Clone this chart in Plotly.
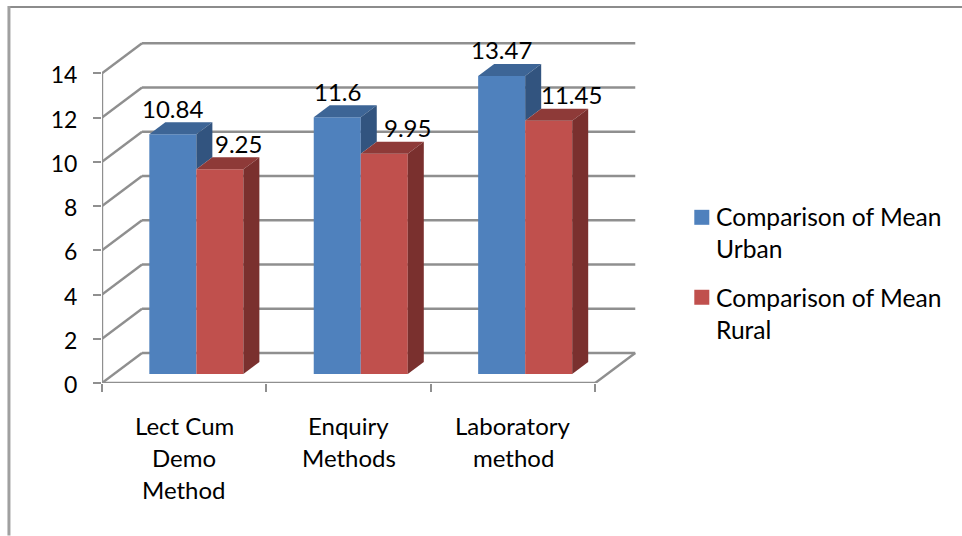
import plotly.graph_objects as go

categories = [["Lect Cum", "Demo", "Method"], ["Enquiry", "Methods"], ["Laboratory", "method"]]
urban = [10.84, 11.6, 13.47]
rural = [9.25, 9.95, 11.45]
urban_labels = ["10.84", "11.6", "13.47"]
rural_labels = ["9.25", "9.95", "11.45"]
y_ticks = [0, 2, 4, 6, 8, 10, 12, 14]
legend_urban = ["Comparison of Mean", "Urban"]
legend_rural = ["Comparison of Mean", "Rural"]

W, H = 962, 536
FONT = "Lato"
FS = 24
LEG_FS = 24.6
TXT = "#000000"
GRID = "#8F8F8F"
LW = 2.4
PX = 164.33          # px per category
PY = 22.14           # px per value unit
L, B = 102.0, 383.3  # pixel position of data origin
XMAX, YMAX = 3.4, 16.0
PW, PH = XMAX * PX, YMAX * PY
T = B - PH
R = W - L - PW

WALL_DX, WALL_DY = 40 / PX, 30 / PY      # back wall offset
BAR_DX, BAR_DY = 12 / PX, 9 / PY         # bar front plane offset
DEP_DX, DEP_DY = 16 / PX, 12 / PY        # bar depth
BAR_W = 47 / PX
GAP = 35.3 / PX

def paper_x(px):
    return (px - L) / PW

def paper_y(py):
    return (B - py) / PH

fig = go.Figure()

# Walls and floor
shapes = []
def line(x0, y0, x1, y1):
    shapes.append(dict(type="line", xref="x", yref="y", x0=x0, y0=y0, x1=x1, y1=y1,
                       line=dict(color=GRID, width=LW), layer="below"))

for v in y_ticks:
    line(WALL_DX, v + WALL_DY, 3 + WALL_DX, v + WALL_DY)
    line(0, v, WALL_DX, v + WALL_DY)
line(3, 0, 3 + WALL_DX, WALL_DY)

# Bar fronts
def xpos(i, s):
    return i + GAP + BAR_W * s + BAR_DX

fronts = [("#4F81BD", urban, 0, "Comparison of Mean Urban"), ("#C0504D", rural, 1, "Comparison of Mean Rural")]
for col, vals, s, name in fronts:
    fig.add_trace(go.Bar(
        x=[xpos(i, s) + BAR_W / 2 for i in range(3)],
        y=vals, base=BAR_DY, width=BAR_W, name=name,
        marker=dict(color=col, line=dict(width=0)), showlegend=False,
        hoverinfo="skip"))

def poly(xs, ys, col):
    fig.add_trace(go.Scatter(x=xs, y=ys, mode="lines", fill="toself", fillcolor=col,
                             line=dict(width=0, color=col), showlegend=False,
                             hoverinfo="skip", cliponaxis=False))

for i in range(3):
    # urban top and visible side (down to the rural top)
    x0, x1 = xpos(i, 0), xpos(i, 1)
    t = urban[i] + BAR_DY
    r = rural[i] + BAR_DY
    poly([x0, x1, x1 + DEP_DX, x0 + DEP_DX, x0], [t, t, t + DEP_DY, t + DEP_DY, t], "#3D6596")
    poly([x1, x1 + DEP_DX, x1 + DEP_DX, x1, x1], [t, t + DEP_DY, r + DEP_DY, r, t], "#32547F")
    # rural top and side
    x2 = xpos(i, 2)
    poly([x1, x2, x2 + DEP_DX, x1 + DEP_DX, x1], [r, r, r + DEP_DY, r + DEP_DY, r], "#8E3A38")
    poly([x2, x2 + DEP_DX, x2 + DEP_DX, x2, x2],
         [r, r + DEP_DY, BAR_DY + DEP_DY, BAR_DY, r], "#7A302E")

# Front axis lines
for xs, ys in [([0, 0], [0, y_ticks[-1]]), ([0, 3], [0, 0])]:
    fig.add_trace(go.Scatter(x=xs, y=ys, mode="lines", line=dict(color=GRID, width=LW),
                             showlegend=False, hoverinfo="skip", cliponaxis=False))

# Annotations
ann = []
def label(x, y, text, xshift=0, yshift=0):
    ann.append(dict(x=x, y=y, xref="x", yref="y", text=text, showarrow=False,
                    xshift=xshift, yshift=yshift, xanchor="center", yanchor="middle",
                    font=dict(family=FONT, size=FS, color=TXT)))

rural_xshift = [18.4, 23.5, 23]
for i in range(3):
    label(xpos(i, 0) + BAR_W / 2, urban[i] + BAR_DY, urban_labels[i], 0, 26)
    label(xpos(i, 1) + BAR_W / 2, rural[i] + BAR_DY, rural_labels[i], rural_xshift[i], 26)

def pixel_text(x, xref, py, text, anchor, size):
    ann.append(dict(x=x, y=paper_y(py), xref=xref, yref="paper", text=text, showarrow=False,
                    xanchor=anchor, yanchor="middle", font=dict(family=FONT, size=size, color=TXT)))

for i, lines in enumerate(categories):
    for j, s in enumerate(lines):
        pixel_text(i + 0.5, "x", 426 + 32 * j, s, "center", FS)

for lines, py in [(legend_urban, 217), (legend_rural, 298)]:
    for j, s in enumerate(lines):
        pixel_text(paper_x(714), "paper", py + 32 * j, s, "left", LEG_FS)

# Legend swatches and outer border
for col, py in [("#4F81BD", 210), ("#C0504D", 290)]:
    shapes.append(dict(type="rect", xref="paper", yref="paper", x0=paper_x(694), x1=paper_x(709),
                       y0=paper_y(py), y1=paper_y(py + 15), fillcolor=col, line=dict(width=0)))
shapes.append(dict(type="line", xref="paper", yref="paper", x0=paper_x(8), x1=paper_x(962),
                   y0=paper_y(7), y1=paper_y(7), line=dict(color="#8C8C8C", width=2)))
shapes.append(dict(type="line", xref="paper", yref="paper", x0=paper_x(9), x1=paper_x(9),
                   y0=paper_y(6), y1=paper_y(536), line=dict(color="#A0A0A0", width=3)))

fig.update_layout(
    width=W, height=H, autosize=False,
    margin=dict(l=L, r=R, t=T, b=H - B, pad=0),
    paper_bgcolor="white", plot_bgcolor="white",
    barmode="overlay", showlegend=False,
    shapes=shapes, annotations=ann,
    font=dict(family=FONT, size=FS, color=TXT),
    xaxis=dict(range=[0, XMAX], tickmode="array", tickvals=[0, 1, 2, 3], ticks="outside",
               ticklen=8, tickwidth=LW, tickcolor=GRID, showticklabels=False,
               showgrid=False, zeroline=False, showline=False, fixedrange=True),
    yaxis=dict(range=[0, YMAX], tickmode="array", tickvals=y_ticks, ticks="outside",
               ticklen=8, tickwidth=LW, tickcolor=GRID, ticklabelstandoff=11,
               ticklabelshift=2,
               tickfont=dict(family=FONT, size=23, color=TXT),
               showgrid=False, zeroline=False, showline=False, fixedrange=True),
)

fig.write_html("out.html", config=dict(displayModeBar=False),
               post_script="document.body.style.margin='0';document.body.style.overflow='hidden';")
